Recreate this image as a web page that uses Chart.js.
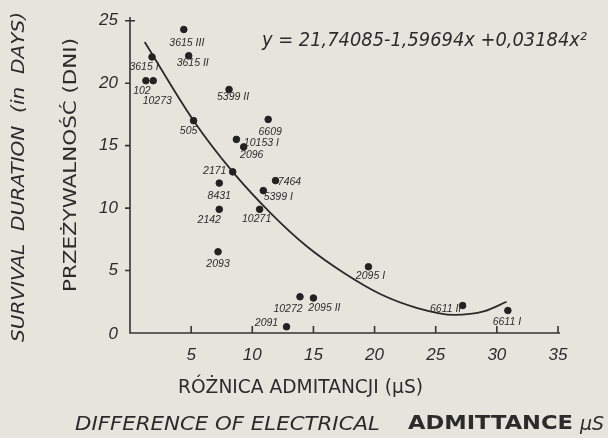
<!DOCTYPE html>
<html>
<head>
<meta charset="utf-8">
<script src="https://cdn.jsdelivr.net/npm/chart.js@4/dist/chart.umd.min.js"></script>
<style>
  html, body { margin: 0; padding: 0; background: #e5e5dd; }
  #wrap { width: 608px; height: 438px; }
</style>
</head>
<body>
<div id="wrap"><canvas id="survivalChart" width="608" height="438"></canvas></div>
<script>
const sampleIds = ['3615 III', '3615 II', '3615 I', '102', '10273', '5399 II', '505', '6609',
    '10153 I', '2096', '2171', '8431', '7464', '5399 I', '2142', '10271', '2093',
    '10272', '2095 II', '2091', '2095 I', '6611 II', '6611 I'];
const admittanceDiff = [4.4, 4.8, 1.8, 1.3, 1.9, 8.1, 5.2, 11.3,
    8.7, 9.3, 8.4, 7.3, 11.9, 10.9, 7.3, 10.6, 7.2,
    13.9, 15.0, 12.8, 19.5, 27.2, 30.9];
const survivalDays = [24.3, 22.2, 22.1, 20.2, 20.2, 19.5, 17.0, 17.1,
    15.5, 14.9, 12.9, 12.0, 12.2, 11.4, 9.9, 9.9, 6.5,
    2.9, 2.8, 0.5, 5.3, 2.2, 1.8];

// regression curve as drawn in the figure
const curveX = [1.2, 5.2, 8.4, 11.5, 14.5, 17.5, 20.5, 23.5, 26.5, 29.0, 30.8];
const curveY = [23.3, 17.0, 12.9, 9.6, 6.9, 4.8, 3.1, 2.0, 1.45, 1.75, 2.5];

const xTicks = [5, 10, 15, 20, 25, 30, 35];
const yTicks = [0, 5, 10, 15, 20, 25];

const equationText = 'y = 21,74085-1,59694x +0,03184x²';

const ink = '#2b2b2b';

// where each sample label sits relative to its dot (px)
const labelOffsets = {
    '3615 III': [3, 14], '3615 II': [4, 7], '3615 I': [-8, 10], '102': [-4, 10],
    '10273': [4, 20], '5399 II': [4, 8], '505': [-5, 10], '6609': [2, 13],
    '10153 I': [25, 4], '2096': [8, 8], '2171': [-18, -1], '8431': [0, 13],
    '7464': [14, 1], '5399 I': [15, 6], '2142': [-10, 11], '10271': [-3, 10],
    '2093': [0, 12], '10272': [-12, 12], '2095 II': [11, 10], '2091': [-20, -4],
    '2095 I': [2, 9], '6611 II': [-17, 4], '6611 I': [-1, 12]
};

function fitText(ctx, text, x, y, width, align) {
    const w = ctx.measureText(text).width;
    const sx = width / w;
    ctx.save();
    ctx.translate(x, y);
    ctx.scale(sx, 1);
    ctx.textAlign = align || 'left';
    ctx.fillText(text, 0, 0);
    ctx.restore();
}

const decorations = {
    id: 'decorations',
    afterDatasetsDraw(chart) {
        const ctx = chart.ctx;
        const xs = chart.scales.x, ys = chart.scales.y;
        const x0 = xs.getPixelForValue(0), y0 = ys.getPixelForValue(0);
        const xEnd = xs.getPixelForValue(35), yTop = chart.chartArea.top;

        ctx.save();
        ctx.strokeStyle = '#333';
        ctx.lineWidth = 1.6;
        ctx.beginPath();
        ctx.moveTo(x0, yTop);
        ctx.lineTo(x0, y0);
        ctx.lineTo(xEnd + 2, y0);
        ctx.stroke();

        // ticks
        ctx.beginPath();
        xTicks.forEach(v => {
            const px = xs.getPixelForValue(v);
            ctx.moveTo(px, y0);
            ctx.lineTo(px, y0 - 7);
        });
        yTicks.forEach(v => {
            if (v === 0) return;
            const py = ys.getPixelForValue(v);
            ctx.moveTo(x0 - 5, py);
            ctx.lineTo(x0 + (v === 25 ? 5 : 0), py);
        });
        ctx.stroke();

        ctx.fillStyle = ink;
        ctx.textBaseline = 'middle';
        ctx.font = 'italic 17px "Liberation Sans"';
        ctx.textAlign = 'center';
        xTicks.forEach(v => {
            ctx.fillText(String(v), xs.getPixelForValue(v), y0 + 22);
        });
        ctx.textAlign = 'right';
        yTicks.forEach(v => {
            const py = ys.getPixelForValue(v);
            ctx.fillText(String(v), x0 - 12, v === 0 ? py + 1 : py);
        });

        // sample labels
        ctx.font = 'italic 10.5px "Liberation Sans"';
        ctx.textAlign = 'center';
        sampleIds.forEach((id, i) => {
            const off = labelOffsets[id] || [0, 10];
            const px = xs.getPixelForValue(admittanceDiff[i]);
            const py = ys.getPixelForValue(survivalDays[i]);
            ctx.fillText(id, px + off[0], py + off[1]);
        });

        // equation
        ctx.font = 'italic 19px "DejaVu Sans"';
        fitText(ctx, equationText, 262, 41, 325);

        // axis titles
        ctx.font = '19px "DejaVu Sans"';
        fitText(ctx, 'RÓŻNICA ADMITANCJI (μS)', 178, 388, 245);

        ctx.font = 'italic 19px "DejaVu Sans"';
        fitText(ctx, 'DIFFERENCE OF ELECTRICAL', 75, 425, 305);
        ctx.font = 'bold 20px "DejaVu Sans"';
        fitText(ctx, 'ADMITTANCE', 408, 424, 165);
        ctx.font = 'italic 19px "DejaVu Sans"';
        ctx.textAlign = 'left';
        ctx.fillText('μS', 580, 425);

        ctx.save();
        ctx.translate(72, 165);
        ctx.rotate(-Math.PI / 2);
        ctx.font = '17px "DejaVu Sans"';
        fitText(ctx, 'PRZEŻYWALNOŚĆ (DNI)', -127, 0, 254);
        ctx.restore();

        ctx.save();
        ctx.translate(19, 177);
        ctx.rotate(-Math.PI / 2);
        ctx.font = 'italic 18px "DejaVu Sans"';
        fitText(ctx, 'SURVIVAL  DURATION  (in  DAYS)', -165, 0, 330);
        ctx.restore();

        ctx.restore();
    }
};

const ctx = document.getElementById('survivalChart').getContext('2d');
new Chart(ctx, {
    type: 'scatter',
    data: {
        datasets: [{
            label: 'samples',
            data: admittanceDiff.map((x, i) => ({ x: x, y: survivalDays[i] })),
            backgroundColor: '#222',
            borderColor: '#222',
            pointRadius: 3.3,
            clip: false
        }, {
            label: 'fit',
            data: curveX.map((x, i) => ({ x: x, y: curveY[i] })),
            showLine: true,
            borderColor: '#2a2a2a',
            borderWidth: 1.8,
            pointRadius: 0,
            cubicInterpolationMode: 'monotone',
            clip: false
        }]
    },
    options: {
        responsive: false,
        animation: false,
        layout: { padding: { left: 130, right: 50, top: 17, bottom: 105 } },
        plugins: { legend: { display: false }, tooltip: { enabled: false } },
        scales: {
            x: { type: 'linear', min: 0, max: 35, display: false },
            y: { type: 'linear', min: 0, max: 25.3, display: false }
        }
    },
    plugins: [decorations]
});
</script>
</body>
</html>
